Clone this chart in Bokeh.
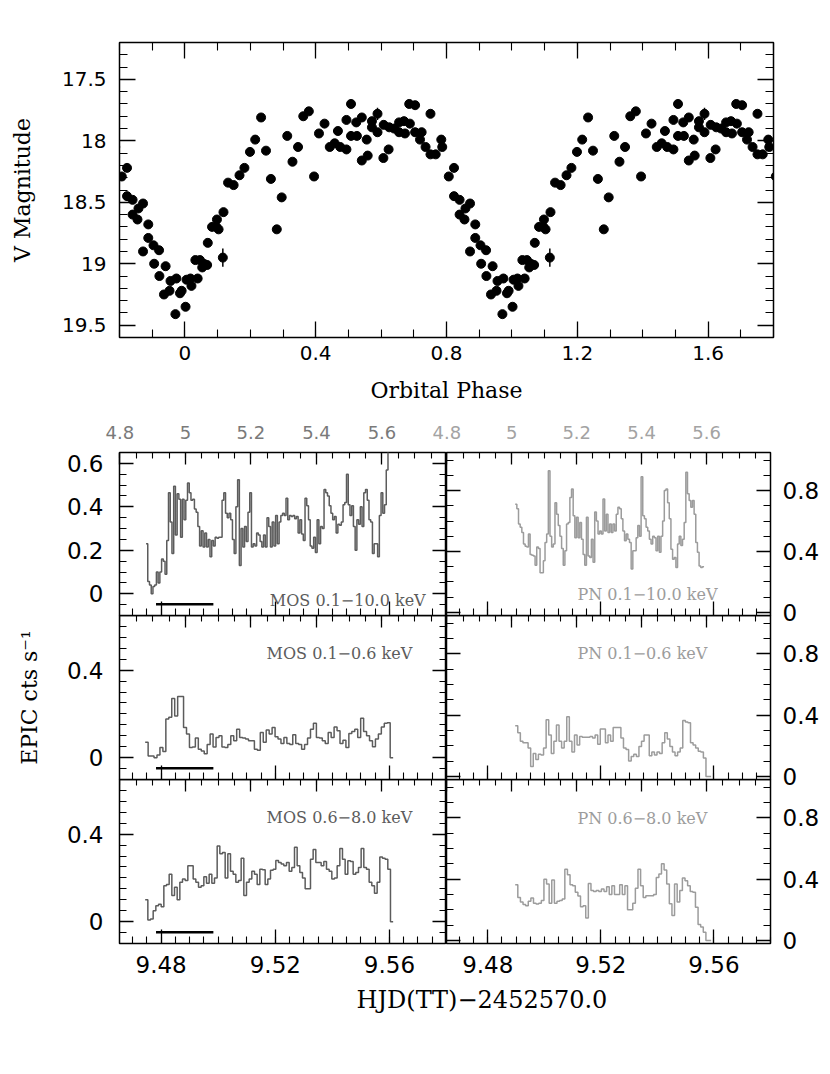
import numpy as np
from bokeh.plotting import figure
from bokeh.models import Range1d, LinearAxis, SingleIntervalTicker, CustomJSTickFormatter, Label, Grid
from bokeh.layouts import column, row
from bokeh.embed import file_html
from bokeh.resources import INLINE

# ---------------- optical light curve (one orbital cycle, phase 0..1) ----------------
opt_phase = [0.002, 0.005, 0.017, 0.020, 0.032, 0.039, 0.046, 0.053, 0.058, 0.068, 0.070,
             0.083, 0.096, 0.098, 0.103, 0.116, 0.118, 0.132, 0.149, 0.167, 0.182, 0.199,
             0.215, 0.233, 0.248, 0.263, 0.281, 0.296, 0.313, 0.329, 0.346, 0.362, 0.379,
             0.395, 0.410, 0.427, 0.443, 0.458, 0.468, 0.475, 0.494, 0.494, 0.508, 0.508,
             0.524, 0.526, 0.541, 0.541, 0.556, 0.559, 0.572, 0.572, 0.589, 0.589, 0.607,
             0.608, 0.623, 0.625, 0.640, 0.655, 0.655, 0.670, 0.673, 0.686, 0.688, 0.704,
             0.704, 0.719, 0.724, 0.736, 0.751, 0.751, 0.767, 0.784, 0.787, 0.807, 0.823,
             0.823, 0.840, 0.840, 0.855, 0.858, 0.872, 0.872, 0.888, 0.888, 0.904, 0.906,
             0.921, 0.922, 0.936, 0.941, 0.953, 0.956, 0.971, 0.974, 0.985, 0.990]
opt_vmag = [19.35, 19.13, 19.12, 19.18, 18.97, 19.12, 18.97, 19.03, 19.00, 19.01, 18.83,
            18.70, 18.70, 18.64, 18.72, 18.95, 18.58, 18.34, 18.36, 18.28, 18.22, 18.09,
            17.99, 17.81, 18.08, 18.31, 18.72, 18.46, 17.96, 18.17, 18.05, 17.80, 17.76,
            18.29, 17.94, 17.86, 18.05, 18.02, 17.92, 18.05, 18.07, 17.83, 17.70, 17.96,
            17.85, 17.96, 17.81, 18.16, 17.99, 18.12, 17.84, 17.89, 17.78, 17.93, 18.14,
            17.87, 18.07, 17.89, 17.90, 17.85, 17.93, 17.84, 17.94, 17.70, 17.86, 17.71,
            17.93, 17.99, 17.93, 18.05, 17.78, 18.11, 18.11, 17.99, 18.05, 18.29, 18.22,
            18.45, 18.48, 18.60, 18.64, 18.55, 18.51, 18.90, 18.68, 18.79, 18.85, 19.00,
            18.89, 19.10, 19.25, 19.02, 19.22, 19.14, 19.41, 19.12, 19.24, 19.22]
# points whose error bars are larger than the marker
opt_err_phase = [0.116, 0.589]
opt_err_vmag = [18.95, 17.78]
opt_err = [0.075, 0.05]

# ---------------- EPIC X-ray light curves (count rate per time bin) ----------------
mos_full = [0.23, 0.056, 0.04, 0.0, 0.033, 0.04, 0.10, 0.05, 0.10, 0.16, 0.15, 0.09, 0.245,
            0.465, 0.33, 0.185, 0.495, 0.27, 0.46, 0.435, 0.26, 0.435, 0.34, 0.43, 0.51,
            0.465, 0.43, 0.435, 0.39, 0.375, 0.31, 0.22, 0.29, 0.215, 0.28, 0.215, 0.25,
            0.17, 0.245, 0.22, 0.26, 0.255, 0.26, 0.26, 0.43, 0.465, 0.37, 0.35, 0.37, 0.34,
            0.25, 0.185, 0.40, 0.525, 0.13, 0.30, 0.215, 0.31, 0.24, 0.375, 0.465, 0.215,
            0.23, 0.22, 0.28, 0.27, 0.24, 0.215, 0.27, 0.215, 0.35, 0.31, 0.215, 0.33, 0.22,
            0.36, 0.23, 0.33, 0.36, 0.37, 0.36, 0.44, 0.34, 0.36, 0.355, 0.36, 0.345, 0.355,
            0.28, 0.34, 0.275, 0.245, 0.44, 0.405, 0.34, 0.22, 0.21, 0.26, 0.19, 0.34, 0.23,
            0.31, 0.30, 0.48, 0.465, 0.45, 0.405, 0.37, 0.34, 0.355, 0.28, 0.32, 0.315, 0.33,
            0.41, 0.42, 0.55, 0.41, 0.36, 0.405, 0.31, 0.20, 0.34, 0.32, 0.40, 0.31, 0.465,
            0.48, 0.43, 0.34, 0.33, 0.185, 0.23, 0.23, 0.17, 0.36, 0.465, 0.37, 0.41, 0.57, 0.66]
mos_soft = [0.07, 0.008, 0.008, 0.0, 0.012, 0.046, 0.028, 0.177, 0.185, 0.27, 0.19, 0.28,
            0.28, 0.138, 0.108, 0.046, 0.049, 0.09, 0.038, 0.03, 0.018, 0.06, 0.108, 0.049,
            0.092, 0.10, 0.049, 0.046, 0.06, 0.10, 0.077, 0.13, 0.092, 0.09, 0.085, 0.077,
            0.077, 0.038, 0.034, 0.115, 0.07, 0.126, 0.108, 0.138, 0.095, 0.085, 0.065, 0.092,
            0.065, 0.06, 0.105, 0.065, 0.06, 0.038, 0.06, 0.09, 0.13, 0.157, 0.092, 0.09,
            0.077, 0.065, 0.115, 0.092, 0.14, 0.123, 0.065, 0.08, 0.046, 0.11, 0.12, 0.13,
            0.092, 0.18, 0.12, 0.10, 0.077, 0.05, 0.085, 0.108, 0.14, 0.157, 0.16, 0.0]
mos_hard = [0.10, 0.008, 0.012, 0.05, 0.073, 0.08, 0.068, 0.164, 0.17, 0.217, 0.12, 0.157,
            0.10, 0.18, 0.195, 0.188, 0.255, 0.255, 0.195, 0.18, 0.157, 0.164, 0.205, 0.175,
            0.217, 0.175, 0.20, 0.346, 0.31, 0.316, 0.20, 0.31, 0.23, 0.217, 0.18, 0.188, 0.29,
            0.12, 0.18, 0.195, 0.23, 0.217, 0.17, 0.24, 0.237, 0.17, 0.195, 0.235, 0.24, 0.28,
            0.27, 0.263, 0.255, 0.27, 0.23, 0.248, 0.34, 0.255, 0.225, 0.20, 0.15, 0.15, 0.285,
            0.33, 0.27, 0.27, 0.255, 0.275, 0.24, 0.23, 0.195, 0.20, 0.255, 0.335, 0.285, 0.217,
            0.278, 0.275, 0.217, 0.225, 0.248, 0.335, 0.248, 0.24, 0.18, 0.164, 0.13, 0.18,
            0.296, 0.29, 0.285, 0.24, 0.0]
pn_full = [0.71, 0.68, 0.58, 0.56, 0.525, 0.45, 0.435, 0.43, 0.515, 0.38, 0.375, 0.37, 0.31,
           0.43, 0.42, 0.26, 0.26, 0.34, 0.46, 0.515, 0.93, 0.50, 0.43, 0.45, 0.72, 0.645, 0.57,
           0.50, 0.42, 0.31, 0.405, 0.58, 0.59, 0.755, 0.81, 0.635, 0.49, 0.625, 0.49, 0.59,
           0.48, 0.38, 0.31, 0.625, 0.37, 0.36, 0.48, 0.33, 0.66, 0.60, 0.515, 0.535, 0.515,
           0.745, 0.535, 0.645, 0.525, 0.58, 0.525, 0.58, 0.535, 0.645, 0.69, 0.68, 0.615,
           0.535, 0.47, 0.515, 0.48, 0.46, 0.285, 0.405, 0.405, 0.49, 0.57, 0.50, 0.89, 0.635,
           0.615, 0.56, 0.535, 0.48, 0.45, 0.50, 0.49, 0.405, 0.50, 0.395, 0.50, 0.60, 0.80,
           0.81, 0.72, 0.615, 0.415, 0.35, 0.36, 0.295, 0.45, 0.50, 0.44, 0.48, 0.59, 0.92,
           0.78, 0.735, 0.69, 0.735, 0.645, 0.46, 0.395, 0.305, 0.295, 0.30]
pn_soft = [0.33, 0.285, 0.23, 0.22, 0.22, 0.185, 0.065, 0.15, 0.11, 0.145, 0.14, 0.185, 0.37,
           0.27, 0.15, 0.23, 0.335, 0.23, 0.185, 0.23, 0.39, 0.23, 0.16, 0.27, 0.205, 0.26,
           0.255, 0.255, 0.255, 0.26, 0.25, 0.27, 0.21, 0.31, 0.31, 0.22, 0.27, 0.23, 0.32,
           0.32, 0.32, 0.25, 0.185, 0.175, 0.10, 0.13, 0.145, 0.13, 0.195, 0.23, 0.27, 0.27,
           0.135, 0.16, 0.14, 0.16, 0.15, 0.22, 0.285, 0.245, 0.195, 0.16, 0.135, 0.16, 0.185,
           0.365, 0.355, 0.35, 0.22, 0.205, 0.185, 0.165, 0.16, 0.12, 0.0, 0.0]
pn_hard = [0.364, 0.28, 0.25, 0.234, 0.227, 0.255, 0.277, 0.242, 0.238, 0.242, 0.26, 0.40,
           0.368, 0.242, 0.394, 0.242, 0.255, 0.26, 0.27, 0.465, 0.428, 0.364, 0.357, 0.314,
           0.29, 0.22, 0.227, 0.147, 0.372, 0.325, 0.32, 0.325, 0.32, 0.335, 0.32, 0.35, 0.30,
           0.357, 0.30, 0.30, 0.364, 0.30, 0.357, 0.20, 0.20, 0.242, 0.34, 0.465, 0.357, 0.28,
           0.292, 0.292, 0.292, 0.30, 0.41, 0.433, 0.50, 0.46, 0.368, 0.24, 0.162, 0.368, 0.25,
           0.325, 0.407, 0.39, 0.357, 0.32, 0.315, 0.216, 0.104, 0.087, 0.054, 0.0, 0.0]

# time coverage (HJD - 2452570) of each light curve
mos_full_span = [9.4747, 9.5601]
mos_band_span = [9.4744, 9.5613]
pn_full_span = [9.4897, 9.5565]
pn_band_span = [9.4897, 9.5590]

mos_labels = ["MOS 0.1\u221210.0 keV", "MOS 0.1\u22120.6 keV", "MOS 0.6\u22128.0 keV"]
pn_labels = ["PN 0.1\u221210.0 keV", "PN 0.1\u22120.6 keV", "PN 0.6\u22128.0 keV"]

# orbital ephemeris used for the upper (phase) axis of the X-ray panels
T0_HJD = 8.9145
PERIOD = 0.1148
# marked interval (black bar) in the MOS panels
bar_hjd = [9.4782, 9.4983]
bar_rate = -0.048

HJD_LO, HJD_HI = 9.4654, 9.5800

MOS_C = "#5c5c5c"
PN_C = "#9c9c9c"
PH_L = "#7a7a7a"
PH_R = "#a3a3a3"


def no_grid(p):
    p.center = [r for r in p.center if not isinstance(r, Grid)]


def fmt():
    return CustomJSTickFormatter(code="return parseFloat(tick.toFixed(4)).toString();")


def style_ticks(ax, major, minor):
    ax.axis_line_color = None
    ax.major_tick_in = major
    ax.major_tick_out = 0
    ax.minor_tick_in = minor
    ax.minor_tick_out = 0
    ax.major_tick_line_color = "black"
    ax.minor_tick_line_color = "black"
    ax.major_tick_line_width = 1.3
    ax.minor_tick_line_width = 1.1


def labelled(ax, size, standoff, color="black"):
    ax.formatter = fmt()
    ax.major_label_text_font = "DejaVu Sans"
    ax.major_label_text_font_size = size
    ax.major_label_text_color = color
    ax.major_label_standoff = standoff


def unlabelled(ax):
    ax.major_label_text_font_size = "0px"
    ax.major_label_text_color = None
    ax.major_label_standoff = 0


def axis_title(ax, text, size, standoff):
    ax.axis_label = text
    ax.axis_label_text_font = "DejaVu Serif"
    ax.axis_label_text_font_size = size
    ax.axis_label_text_font_style = "normal"
    ax.axis_label_text_color = "black"
    ax.axis_label_standoff = standoff


# ---------------- top panel: optical light curve ----------------
top = figure(width=808, height=412, x_range=Range1d(-0.2, 1.8), y_range=Range1d(19.6, 17.2),
             x_axis_location=None, y_axis_location=None, toolbar_location=None, tools="",
             output_backend="svg", min_border_left=119, min_border_right=35,
             min_border_top=42, min_border_bottom=75,
             outline_line_color="black", outline_line_width=1.5,
             background_fill_color=None, border_fill_color=None)
no_grid(top)

for side in ("below", "above"):
    ax = LinearAxis(ticker=SingleIntervalTicker(interval=0.4, num_minor_ticks=4))
    style_ticks(ax, 16, 8)
    if side == "below":
        labelled(ax, "20px", 8)
        axis_title(ax, "Orbital Phase", "22px", 15)
    else:
        unlabelled(ax)
    top.add_layout(ax, side)
for side in ("left", "right"):
    ax = LinearAxis(ticker=SingleIntervalTicker(interval=0.5, num_minor_ticks=5))
    style_ticks(ax, 16, 8)
    if side == "left":
        labelled(ax, "20px", 13)
        axis_title(ax, "V Magnitude", "22px", 24)
    else:
        unlabelled(ax)
    top.add_layout(ax, side)

ph = np.asarray(opt_phase)
vm = np.asarray(opt_vmag)
cycles = [-1.0, 0.0, 1.0]
top.scatter(np.concatenate([ph + c for c in cycles]), np.tile(vm, 3), size=9, color="black")
eph = np.asarray(opt_err_phase)
evm = np.asarray(opt_err_vmag)
ee = np.asarray(opt_err)
ex = np.concatenate([eph + c for c in cycles])
top.segment(x0=ex, y0=np.tile(evm - ee, 3), x1=ex, y1=np.tile(evm + ee, 3),
            line_color="black", line_width=1.5)


# ---------------- X-ray panels ----------------
def xray_panel(r, c, vals, span, color, text, tx, ty):
    left = (c == 0)
    heights = [217, 178, 208]
    yr = Range1d(-0.1, 0.65) if left else Range1d(-0.02, 1.05)
    p = figure(width=446 if left else 396, height=heights[r],
               x_range=Range1d(HJD_LO, HJD_HI), y_range=yr,
               x_axis_location=None, y_axis_location=None, toolbar_location=None, tools="",
               output_backend="svg",
               min_border_left=119 if left else 20, min_border_right=0 if left else 49,
               min_border_top=40 if r == 0 else 0, min_border_bottom=[14, 14, 44][r],
               outline_line_color="black", outline_line_width=1.5,
               background_fill_color=None, border_fill_color=None,
               margin=(0 if r == 0 else -14, 0, 0, 0 if left else -20))
    no_grid(p)
    p.extra_x_ranges = {"phase": Range1d((HJD_LO - T0_HJD) / PERIOD, (HJD_HI - T0_HJD) / PERIOD)}

    if left:
        yint, ynm = (0.2, 4) if r == 0 else (0.4, 8)
    else:
        yint, ynm = 0.4, 4

    yl = LinearAxis(ticker=SingleIntervalTicker(interval=yint, num_minor_ticks=ynm))
    style_ticks(yl, 14, 7)
    if left:
        labelled(yl, "23px", 16)
        if r == 1:
            axis_title(yl, "EPIC cts s\u207b\u00b9", "22px", 22)
    else:
        yl.fixed_location = HJD_LO
        unlabelled(yl)
    p.add_layout(yl, "left")

    yrx = LinearAxis(ticker=SingleIntervalTicker(interval=yint, num_minor_ticks=ynm))
    style_ticks(yrx, 14, 7)
    if left:
        yrx.fixed_location = HJD_HI
        unlabelled(yrx)
    else:
        labelled(yrx, "23px", 12)
    p.add_layout(yrx, "right")

    xb = LinearAxis(ticker=SingleIntervalTicker(interval=0.04, num_minor_ticks=8))
    style_ticks(xb, 14, 7)
    if r == 2:
        labelled(xb, "23px", 12)
    else:
        xb.fixed_location = yr.start
        unlabelled(xb)
    p.add_layout(xb, "below")

    xa = LinearAxis(x_range_name="phase", ticker=SingleIntervalTicker(interval=0.2, num_minor_ticks=4))
    style_ticks(xa, 12, 6)
    if r == 0:
        labelled(xa, "18px", 14, PH_L if left else PH_R)
    else:
        xa.fixed_location = yr.end
        unlabelled(xa)
    p.add_layout(xa, "above")

    v = np.asarray(vals, dtype=float)
    edges = np.linspace(span[0], span[1], len(v) + 1)
    p.step(edges, np.append(v, v[-1]), mode="after", line_color=color, line_width=1.5)

    if left:
        p.line(bar_hjd, [bar_rate, bar_rate], line_color="black", line_width=2.5)

    p.add_layout(Label(x=tx, y=ty, text=text, text_font="DejaVu Serif", text_font_size="16px",
                       text_color=color, text_align="right" if left else "left",
                       text_baseline="middle"))
    return p


mos_series = [mos_full, mos_soft, mos_hard]
mos_spans = [mos_full_span, mos_band_span, mos_band_span]
pn_series = [pn_full, pn_soft, pn_hard]
pn_spans = [pn_full_span, pn_band_span, pn_band_span]
mos_label_pos = [(9.5727, -0.031), (9.5680, 0.476), (9.5680, 0.477)]
pn_label_pos = [(9.5117, 0.118), (9.5117, 0.80), (9.5117, 0.795)]

rows = []
for r in range(3):
    pl = xray_panel(r, 0, mos_series[r], mos_spans[r], MOS_C, mos_labels[r], *mos_label_pos[r])
    pr = xray_panel(r, 1, pn_series[r], pn_spans[r], PN_C, pn_labels[r], *pn_label_pos[r])
    rows.append(row(pl, pr))

# bottom axis title shared by both columns (transparent strip overlapping the tick-label area)
tfig = figure(width=822, height=70, x_range=Range1d(0, 822), y_range=Range1d(0, 70),
              x_axis_location=None, y_axis_location=None, toolbar_location=None, tools="",
              output_backend="svg", min_border=0, outline_line_color=None,
              background_fill_color=None, border_fill_color=None, margin=(-30, 0, 0, 0))
no_grid(tfig)
tfig.add_layout(Label(x=446, y=28, text="HJD(TT)\u22122452570.0", text_font="DejaVu Serif",
                      text_font_size="24px", text_align="center", text_baseline="alphabetic",
                      text_color="black"))

layout = column(top, *rows, tfig)

with open("out.html", "w") as f:
    f.write(file_html(layout, INLINE))
